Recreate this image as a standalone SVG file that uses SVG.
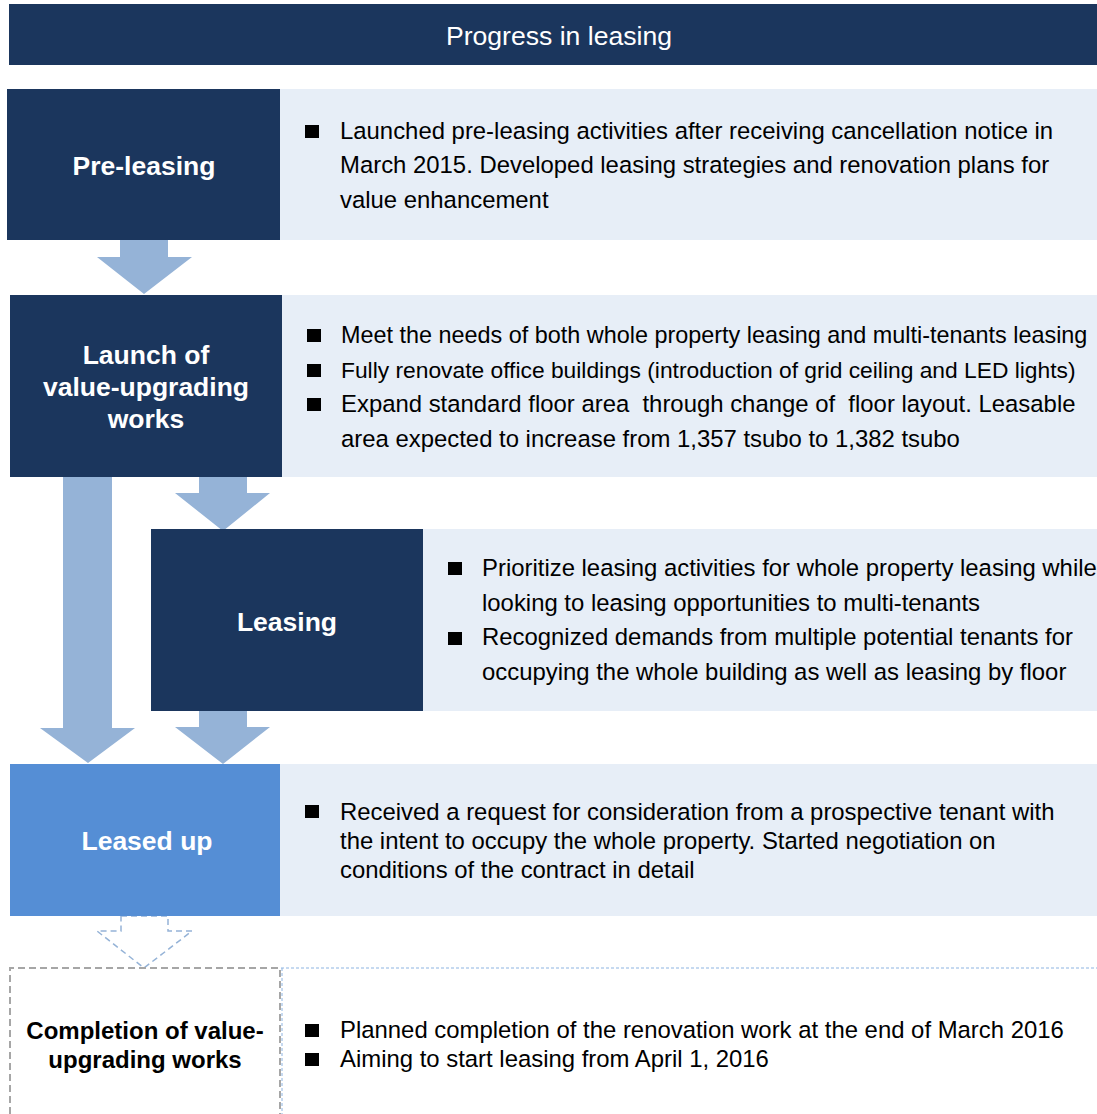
<svg xmlns="http://www.w3.org/2000/svg" width="1097" height="1114" viewBox="0 0 1097 1114">
<style>
.navy{fill:#1b365d}
.panel{fill:#e7eef7}
.arrow{fill:#95b3d7}
.lbl{font-family:"Liberation Sans",Arial,sans-serif;font-weight:bold;font-size:26.5px;fill:#ffffff;text-anchor:middle}
.body{font-family:"Liberation Sans",Arial,sans-serif;font-size:23.9px;fill:#000000}
.bul{fill:#000000}
</style>
<rect width="1097" height="1114" fill="#ffffff"/>
<g id="header">
<rect x="9" y="4" width="1088" height="61" class="navy"/>
<text x="559" y="45" font-family="Liberation Sans, Arial, sans-serif" font-size="26.6" fill="#ffffff" text-anchor="middle">Progress in leasing</text>
</g>
<g id="connectors">
<polygon class="arrow" points="120,240 168,240 168,257 192,257 144,294 97,257 120,257"/>
<polygon class="arrow" points="63,476 112,476 112,728 135,728 88,763 40,728 63,728"/>
<polygon class="arrow" points="199,476 247,476 247,493 270,493 223,531 175,493 199,493"/>
<polygon class="arrow" points="199,711 247,711 247,727 270,727 223,764 175,727 199,727"/>
<polygon points="121,916 168,916 168,931 192,931 144,968 97,931 121,931" fill="none" stroke="#95b3d7" stroke-width="1.5" stroke-dasharray="6,4"/>
</g>
<g id="pre-leasing">
<rect x="280" y="89" width="817" height="151" class="panel"/>
<rect x="7" y="89" width="273" height="151" class="navy"/>
<text x="144" y="175" class="lbl">Pre-leasing</text>
<rect x="305" y="125" width="14" height="13" class="bul"/>
<text class="body"><tspan x="340" y="139">Launched pre-leasing activities after receiving cancellation notice in</tspan><tspan x="340" y="173">March 2015. Developed leasing strategies and renovation plans for</tspan><tspan x="340" y="208">value enhancement</tspan></text>
</g>
<g id="launch">
<rect x="282" y="295" width="815" height="182" class="panel"/>
<rect x="10" y="295" width="272" height="182" class="navy"/>
<text class="lbl"><tspan x="146" y="364">Launch of</tspan><tspan x="146" y="396">value-upgrading</tspan><tspan x="146" y="428">works</tspan></text>
<rect x="307" y="329" width="14" height="13" class="bul"/>
<rect x="307" y="364" width="14" height="13" class="bul"/>
<rect x="307" y="398" width="14" height="13" class="bul"/>
<text class="body"><tspan x="341" y="343" font-size="23.4">Meet the needs of both whole property leasing and multi-tenants leasing</tspan><tspan x="341" y="378" font-size="22.8">Fully renovate office buildings (introduction of grid ceiling and LED lights)</tspan><tspan x="341" y="412" xml:space="preserve">Expand standard floor area  through change of  floor layout. Leasable</tspan><tspan x="341" y="447">area expected to increase from 1,357 tsubo to 1,382 tsubo</tspan></text>
</g>
<g id="leasing">
<rect x="423" y="529" width="674" height="182" class="panel"/>
<rect x="151" y="529" width="272" height="182" class="navy"/>
<text x="287" y="631" class="lbl">Leasing</text>
<rect x="448" y="562" width="14" height="13" class="bul"/>
<rect x="448" y="632" width="14" height="13" class="bul"/>
<text class="body"><tspan x="482" y="576">Prioritize leasing activities for whole property leasing while</tspan><tspan x="482" y="611">looking to leasing opportunities to multi-tenants</tspan><tspan x="482" y="645">Recognized demands from multiple potential tenants for</tspan><tspan x="482" y="680">occupying the whole building as well as leasing by floor</tspan></text>
</g>
<g id="leased-up">
<rect x="280" y="764" width="817" height="152" class="panel"/>
<rect x="10" y="764" width="270" height="152" fill="#558ed5"/>
<text x="147" y="850" class="lbl">Leased up</text>
<rect x="305" y="805" width="14" height="13" class="bul"/>
<text class="body"><tspan x="340" y="820">Received a request for consideration from a prospective tenant with</tspan><tspan x="340" y="849">the intent to occupy the whole property. Started negotiation on</tspan><tspan x="340" y="878">conditions of the contract in detail</tspan></text>
</g>
<g id="completion">
<line x1="281" y1="968" x2="1097" y2="968" stroke="#8db4e2" stroke-width="1" stroke-dasharray="3,2"/>
<line x1="282" y1="968" x2="282" y2="1114" stroke="#8db4e2" stroke-width="1" stroke-dasharray="3,2"/>
<path d="M10,1114 V968 H280 V1114" fill="none" stroke="#a6a6a6" stroke-width="2" stroke-dasharray="7,4"/>
<text font-family="Liberation Sans, Arial, sans-serif" font-weight="bold" font-size="24" fill="#000000" text-anchor="middle"><tspan x="145" y="1039">Completion of value-</tspan><tspan x="145" y="1068">upgrading works</tspan></text>
<rect x="305" y="1024" width="14" height="13" class="bul"/>
<rect x="305" y="1053" width="14" height="13" class="bul"/>
<text class="body"><tspan x="340" y="1038">Planned completion of the renovation work at the end of March 2016</tspan><tspan x="340" y="1067">Aiming to start leasing from April 1, 2016</tspan></text>
</g>
</svg>
